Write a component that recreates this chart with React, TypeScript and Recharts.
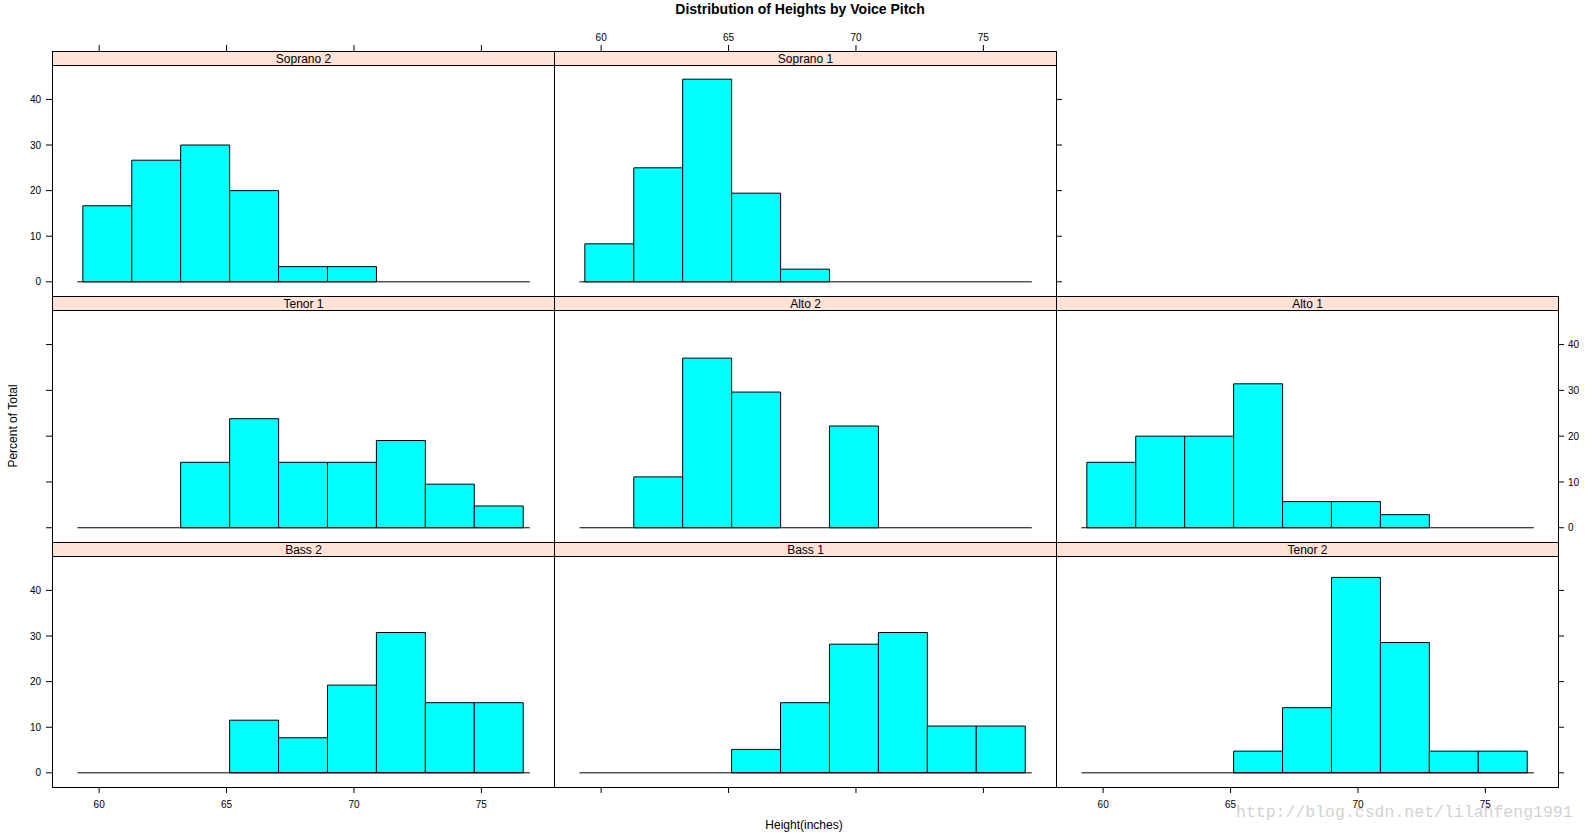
import { Bar, ComposedChart, ReferenceLine, XAxis, YAxis } from 'recharts'

// histogram bins shared by every panel (inches)
const BIN_EDGES = [59.36, 61.28, 63.2, 65.12, 67.04, 68.96, 70.88, 72.8, 74.72, 76.64]
const X_DOMAIN: [number, number] = [58.15, 77.85]
const Y_DOMAIN: [number, number] = [-3.11, 47.55]
const X_TICKS = [60, 65, 70, 75]
const Y_TICKS = [0, 10, 20, 30, 40]
const BASELINE = [59.15, 76.9]

// percent of total per bin
const soprano2 = [16.67, 26.67, 30, 20, 3.33, 3.33, 0, 0, 0]
const soprano1 = [8.33, 25, 44.44, 19.44, 2.78, 0, 0, 0, 0]
const tenor1 = [0, 0, 14.29, 23.81, 14.29, 14.29, 19.05, 9.52, 4.76]
const alto2 = [0, 11.11, 37.04, 29.63, 0, 22.22, 0, 0, 0]
const alto1 = [14.29, 20, 20, 31.43, 5.71, 5.71, 2.86, 0, 0]
const bass2 = [0, 0, 0, 11.54, 7.69, 19.23, 30.77, 15.38, 15.38]
const bass1 = [0, 0, 0, 5.13, 15.38, 28.21, 30.77, 10.26, 10.26]
const tenor2 = [0, 0, 0, 4.76, 14.29, 42.86, 28.57, 4.76, 4.76]

const TITLE = 'Distribution of Heights by Voice Pitch'
const X_LABEL = 'Height(inches)'
const Y_LABEL = 'Percent of Total'
const WATERMARK = 'http://blog.csdn.net/lilanfeng1991'

// layout
const COL_LEFT = [52, 554, 1056]
const PANEL_W = 502
const ROW_TOP = [51, 296, 542]
const ROW_BOTTOM = [296, 542, 787]
const STRIP_H = 14
const M = 40
const FONT = '"Liberation Sans", Arial, sans-serif'

type Side = 'none' | 'ticks' | 'labels'

interface PanelSpec {
  name: string
  values: number[]
  row: number
  col: number
  left?: Side
  right?: Side
  top?: Side
  bottom?: Side
}

const PANELS: PanelSpec[] = [
  { name: 'Soprano 2', values: soprano2, row: 0, col: 0, left: 'labels', top: 'ticks' },
  { name: 'Soprano 1', values: soprano1, row: 0, col: 1, top: 'labels', right: 'ticks' },
  { name: 'Tenor 1', values: tenor1, row: 1, col: 0, left: 'ticks' },
  { name: 'Alto 2', values: alto2, row: 1, col: 1 },
  { name: 'Alto 1', values: alto1, row: 1, col: 2, right: 'labels' },
  { name: 'Bass 2', values: bass2, row: 2, col: 0, left: 'labels', bottom: 'labels' },
  { name: 'Bass 1', values: bass1, row: 2, col: 1, bottom: 'ticks' },
  { name: 'Tenor 2', values: tenor2, row: 2, col: 2, right: 'ticks', bottom: 'labels' },
]

const has = (s?: Side) => s === 'ticks' || s === 'labels'
const tickStyle = { fontSize: 10, fill: '#000', fontFamily: FONT }
// keeps the tick line but draws no label
const noLabel = () => <g />
const tickFor = (s?: Side) => (s === 'labels' ? tickStyle : noLabel)

// top axis sits above the strip, so its ticks are drawn shifted up by the strip height
function TopTick(props: any) {
  const { x, y, payload, showLabel } = props
  const yb = y - STRIP_H
  return (
    <g>
      <line x1={x} x2={x} y1={yb} y2={yb - 6} stroke="#000" strokeWidth={1} />
      {showLabel && (
        <text x={x} y={yb - 10} textAnchor="middle" fontSize={10} fill="#000" fontFamily={FONT}>
          {payload.value}
        </text>
      )}
    </g>
  )
}

function Panel({ spec }: { spec: PanelSpec }) {
  const x0 = COL_LEFT[spec.col]
  const top = ROW_TOP[spec.row]
  const bottom = ROW_BOTTOM[spec.row]
  const plotTop = top + STRIP_H
  const plotH = bottom - plotTop
  const span = X_DOMAIN[1] - X_DOMAIN[0]
  const padL = ((BIN_EDGES[0] - X_DOMAIN[0]) / span) * PANEL_W
  const padR = ((X_DOMAIN[1] - BIN_EDGES[BIN_EDGES.length - 1]) / span) * PANEL_W
  const data = spec.values.map((v, i) => ({
    bin: String(BIN_EDGES[i]),
    mid: (BIN_EDGES[i] + BIN_EDGES[i + 1]) / 2,
    pct: v,
  }))
  const margin = {
    top: has(spec.top) ? 0 : M,
    bottom: 0,
    left: has(spec.left) ? 0 : M,
    right: has(spec.right) ? 0 : M,
  }

  return (
    <>
      <div style={{ position: 'absolute', left: x0 - M, top: plotTop - M }}>
        <ComposedChart
          width={PANEL_W + 2 * M}
          height={plotH + 2 * M}
          data={data}
          margin={margin}
          barCategoryGap={0}
          barGap={0}
        >
          {has(spec.top) && (
            <XAxis
              xAxisId="top"
              orientation="top"
              dataKey="mid"
              type="number"
              domain={X_DOMAIN}
              allowDataOverflow
              ticks={X_TICKS}
              height={M}
              axisLine={false}
              tickLine={false}
              tickSize={0}
              tickMargin={0}
              tick={<TopTick showLabel={spec.top === 'labels'} />}
            />
          )}
          <XAxis
            xAxisId="bins"
            orientation="top"
            dataKey="bin"
            type="category"
            height={0}
            axisLine={false}
            tickLine={false}
            tick={false}
            padding={{ left: padL, right: padR }}
          />
          <XAxis
            xAxisId="num"
            orientation="bottom"
            dataKey="mid"
            type="number"
            domain={X_DOMAIN}
            allowDataOverflow
            ticks={X_TICKS}
            height={M}
            axisLine={false}
            tickLine={has(spec.bottom) ? { stroke: '#000' } : false}
            tickSize={6}
            tickMargin={8}
            tick={has(spec.bottom) ? tickFor(spec.bottom) : false}
          />
          <YAxis yAxisId="y" type="number" domain={Y_DOMAIN} allowDataOverflow hide />
          {has(spec.left) && (
            <YAxis
              yAxisId="left"
              orientation="left"
              type="number"
              domain={Y_DOMAIN}
              allowDataOverflow
              ticks={Y_TICKS}
              width={M}
              axisLine={false}
              tickLine={{ stroke: '#000' }}
              tickSize={6}
              tickMargin={5}
              tick={tickFor(spec.left)}
            />
          )}
          {has(spec.right) && (
            <YAxis
              yAxisId="right"
              orientation="right"
              type="number"
              domain={Y_DOMAIN}
              allowDataOverflow
              ticks={Y_TICKS}
              width={M}
              axisLine={false}
              tickLine={{ stroke: '#000' }}
              tickSize={6}
              tickMargin={4}
              tick={tickFor(spec.right)}
            />
          )}
          <Bar
            xAxisId="bins"
            yAxisId="y"
            dataKey="pct"
            fill="#00FFFF"
            stroke="#000"
            strokeWidth={1}
            isAnimationActive={false}
          />
          <ReferenceLine
            xAxisId="num"
            yAxisId="y"
            segment={[
              { x: BASELINE[0], y: 0 },
              { x: BASELINE[1], y: 0 },
            ]}
            stroke="#000"
            strokeWidth={1}
          />
        </ComposedChart>
      </div>
      <div
        style={{
          position: 'absolute',
          left: x0,
          top,
          width: PANEL_W + 1,
          height: bottom - top + 1,
          boxSizing: 'border-box',
          border: '1px solid #000',
          pointerEvents: 'none',
        }}
      />
      <div
        style={{
          position: 'absolute',
          left: x0,
          top,
          width: PANEL_W + 1,
          height: STRIP_H + 1,
          boxSizing: 'border-box',
          border: '1px solid #000',
          background: '#FFE3D6',
          textAlign: 'center',
          fontSize: 12,
          lineHeight: `${STRIP_H + 1}px`,
          color: '#000',
          overflow: 'visible',
        }}
      >
        {spec.name}
      </div>
    </>
  )
}

export default function App() {
  return (
    <div
      style={{
        position: 'absolute',
        left: 0,
        top: 0,
        width: 1587,
        height: 834,
        background: '#fff',
        fontFamily: FONT,
        overflow: 'hidden',
      }}
    >
      <div
        style={{
          position: 'absolute',
          left: 600,
          top: 0,
          width: 400,
          textAlign: 'center',
          fontSize: 14,
          fontWeight: 'bold',
          lineHeight: '19px',
        }}
      >
        {TITLE}
      </div>
      {PANELS.map((p) => (
        <Panel key={p.name} spec={p} />
      ))}
      <div
        style={{
          position: 'absolute',
          left: 13 - 100,
          top: 426 - 9,
          width: 200,
          height: 18,
          lineHeight: '18px',
          textAlign: 'center',
          fontSize: 12,
          transform: 'rotate(-90deg)',
        }}
      >
        {Y_LABEL}
      </div>
      <div
        style={{
          position: 'absolute',
          left: 804 - 100,
          top: 825 - 9,
          width: 200,
          lineHeight: '18px',
          textAlign: 'center',
          fontSize: 12,
        }}
      >
        {X_LABEL}
      </div>
      <div
        style={{
          position: 'absolute',
          left: 1236,
          top: 803,
          fontFamily: '"Liberation Mono", monospace',
          fontSize: 16.5,
          lineHeight: '20px',
          color: '#d2d2d2',
          whiteSpace: 'nowrap',
        }}
      >
        {WATERMARK}
      </div>
    </div>
  )
}
